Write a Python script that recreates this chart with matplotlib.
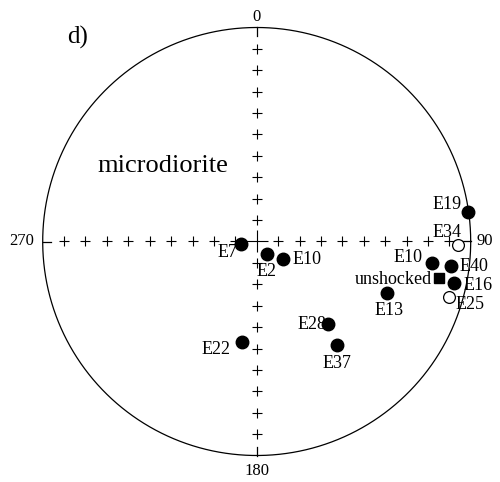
import numpy as np
import matplotlib
matplotlib.use("Agg")
import matplotlib.pyplot as plt

# site mean directions (declination, inclination); negative inc = upper hemisphere
names = ["E19", "E34", "E10", "E40", "E16", "E25", "E13",
         "E7", "E2", "E10", "E28", "E22", "E37"]
dec = [82.0, 91.0, 96.9, 97.2, 101.9, 106.0, 111.6,
       260.9, 139.7, 123.3, 139.2, 188.5, 142.1]
inc = [0.5, -6.8, 18.6, 9.5, 6.5, -7.2, 34.7,
       84.0, 83.8, 77.9, 47.6, 50.6, 38.6]
# label offsets in pixels (dx, dy) from the symbol
label_dx = [-21, -11, -24, 23, 24, 21, 2, -14, -1, 24, -16, -26, 0]
label_dy = [7, 13, 5, 0, -2, -8, -17, -8, -18, 0, 0, -7, -18]

unshocked_dec, unshocked_inc = 101.2, 14.4

plt.rcParams["font.family"] = ["Liberation Serif", "DejaVu Serif"]


def project(d, i):
    # equal-area (Schmidt) projection, unit radius
    d = np.radians(np.asarray(d, dtype=float))
    r = np.sqrt(2) * np.sin(np.radians(90 - np.abs(np.asarray(i, dtype=float))) / 2)
    return r * np.sin(d), r * np.cos(d)


R = 214.0
cx, cy = 256.7, 240.5  # centre in figure pixels (from bottom)
fig = plt.figure(figsize=(5.0, 4.82), dpi=100)
ax = fig.add_axes([0, 0, 1, 1])
ax.set_xlim(-cx / R, (500 - cx) / R)
ax.set_ylim(-cy / R, (482 - cy) / R)
ax.axis("off")

# primitive circle
t = np.linspace(0, 2 * np.pi, 400)
ax.plot(np.cos(t), np.sin(t), color="black", lw=0.9)

# edge ticks
for a in [0, 90, 180, 270]:
    s, c = np.sin(np.radians(a)), np.cos(np.radians(a))
    ax.plot([0.96 * s, 1.0 * s], [0.96 * c, 1.0 * c], color="black", lw=0.9)

# crosses along the axes
k = np.arange(1, 10) / 10
ax.plot(np.concatenate([k, -k]), np.zeros(18), "+", color="black", ms=7, mew=0.8)
ax.plot(np.zeros(18), np.concatenate([k, -k]), "+", color="black", ms=7, mew=0.8)
ax.plot([0], [0], "+", color="black", ms=16, mew=0.8)

ax.text(0, 1.012, "0", ha="center", va="bottom", fontsize=12)
ax.text(0, -1.035, "180", ha="center", va="top", fontsize=12)
ax.text(-1.04, 0, "270", ha="right", va="center", fontsize=12)
ax.text(1.027, 0, "90", ha="left", va="center", fontsize=12)

x, y = project(dec, inc)
for n, xi, yi, ii, dx, dy in zip(names, x, y, inc, label_dx, label_dy):
    if ii >= 0:
        ax.plot(xi, yi, "o", color="black", ms=9, zorder=4)
    else:
        ax.plot(xi, yi, "o", mfc="white", mec="black", mew=0.9, ms=8.5, zorder=4)
    ax.annotate(n, (xi, yi), xytext=(dx, dy), textcoords="offset pixels",
                ha="center", va="center", fontsize=13, zorder=3)

ux, uy = project(unshocked_dec, unshocked_inc)
ax.plot(ux, uy, "s", color="black", ms=7, zorder=4)
ax.annotate("unshocked", (ux, uy), xytext=(-7, -2), textcoords="offset pixels",
            ha="right", va="center", fontsize=13, zorder=3)

ax.text((163 - cx) / R, (482 - 166 - cy) / R, "microdiorite",
        ha="center", va="center", fontsize=19)
ax.text((77.5 - cx) / R, (482 - 37 - cy) / R, "d)",
        ha="center", va="center", fontsize=18)

fig.savefig("out.png", dpi=100)
